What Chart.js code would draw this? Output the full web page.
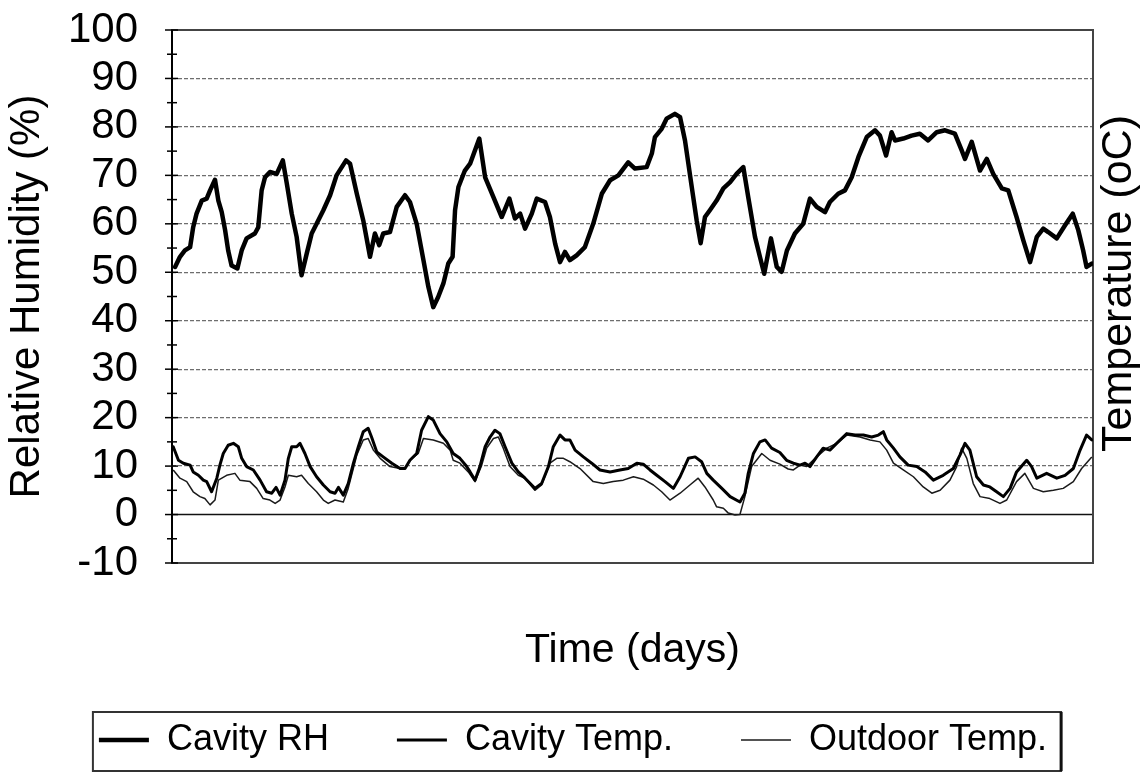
<!DOCTYPE html>
<html><head><meta charset="utf-8">
<script src="https://cdn.jsdelivr.net/npm/chart.js@4.4.1/dist/chart.umd.min.js"></script>
<style>html,body{margin:0;padding:0;background:#fff;} canvas{display:block;}</style>
</head><body>
<canvas id="c" width="1146" height="773"></canvas>
<script>
const FONT = '"Liberation Sans", Arial, Helvetica, sans-serif';
const seriesLabels = ['Cavity RH', 'Cavity Temp.', 'Outdoor Temp.'];
const yMin = -10, yMax = 100, yStep = 10;
const xMinDays = 0, xMaxDays = 30;

const rhDays = [0.10,0.26,0.42,0.59,0.69,0.80,0.97,1.13,1.24,1.40,1.51,1.62,1.73,1.83,1.94,2.13,2.27,2.43,2.70,2.81,2.92,3.03,3.19,3.41,3.61,3.74,3.90,4.06,4.22,4.39,4.55,4.71,4.93,5.15,5.36,5.67,5.80,6.02,6.23,6.45,6.61,6.75,6.88,7.10,7.32,7.59,7.75,7.97,8.19,8.35,8.51,8.67,8.84,9.00,9.14,9.22,9.33,9.54,9.71,10.01,10.20,10.47,10.74,10.99,11.17,11.34,11.50,11.72,11.88,12.15,12.31,12.48,12.64,12.80,12.96,13.18,13.45,13.72,14.00,14.27,14.54,14.86,15.08,15.46,15.63,15.73,15.95,16.11,16.38,16.55,16.71,16.93,17.09,17.22,17.36,17.52,17.74,17.96,18.18,18.39,18.61,18.77,18.99,19.15,19.29,19.51,19.70,19.86,20.03,20.29,20.56,20.78,21.00,21.27,21.43,21.70,21.92,22.14,22.36,22.63,22.90,23.06,23.26,23.44,23.55,23.82,24.09,24.36,24.63,24.91,25.18,25.50,25.72,25.83,26.05,26.32,26.54,26.75,27.03,27.24,27.51,27.73,27.95,28.17,28.38,28.54,28.82,29.09,29.34,29.52,29.68,29.79,29.96];
const rhValues = [51.1,53.2,54.5,55.2,59.3,62.1,64.8,65.2,66.9,69.1,64.8,62.4,58.7,54.5,51.4,50.8,54.5,57.0,58.0,59.3,66.9,69.6,70.7,70.3,73.1,68.3,62.1,57.3,49.4,53.9,58.0,60.0,62.8,65.9,70.0,73.1,72.4,66.2,60.7,53.2,58.0,55.6,58.0,58.3,63.5,65.9,64.5,60.0,52.5,47.0,42.8,44.9,47.7,51.8,53.2,62.8,67.6,71.0,72.4,77.6,69.6,65.5,61.4,65.2,61.1,62.1,59.0,62.1,65.2,64.5,61.4,55.9,52.1,54.2,52.5,53.5,55.2,60.0,66.2,69.0,70.0,72.7,71.4,71.7,74.5,77.9,79.6,81.7,82.7,82.0,77.2,67.6,60.7,56.0,61.4,62.8,64.8,67.3,68.6,70.3,71.7,65.5,57.3,53.2,49.7,57.0,51.1,50.1,54.5,58.0,60.0,65.2,63.5,62.4,64.5,66.2,66.9,69.6,73.8,77.9,79.3,78.2,74.1,78.9,77.2,77.6,78.2,78.6,77.2,78.9,79.3,78.6,75.2,73.4,76.9,71.0,73.4,70.3,67.3,66.9,61.4,56.6,52.1,57.3,59.0,58.3,57.0,59.7,62.1,58.7,54.5,51.1,51.8];

const cavDays = [0.04,0.21,0.37,0.59,0.69,0.86,1.02,1.13,1.29,1.46,1.56,1.67,1.83,2.00,2.16,2.27,2.43,2.65,2.87,3.08,3.25,3.39,3.52,3.68,3.79,3.90,4.06,4.17,4.33,4.50,4.71,4.93,5.15,5.31,5.42,5.58,5.74,5.91,6.07,6.23,6.39,6.50,6.67,6.88,7.16,7.43,7.59,7.75,7.97,8.13,8.35,8.51,8.73,8.95,9.16,9.38,9.60,9.71,9.87,10.03,10.20,10.36,10.52,10.68,10.85,11.07,11.28,11.50,11.82,12.04,12.26,12.42,12.64,12.80,12.96,13.13,13.40,13.67,13.94,14.27,14.59,14.86,15.14,15.35,15.57,15.79,16.06,16.33,16.55,16.82,17.04,17.25,17.42,17.63,17.91,18.18,18.50,18.66,18.77,18.94,19.15,19.32,19.53,19.80,20.02,20.24,20.46,20.62,20.78,21.00,21.21,21.43,21.65,21.98,22.25,22.52,22.79,23.01,23.17,23.28,23.50,23.71,23.98,24.26,24.53,24.80,25.12,25.45,25.67,25.83,25.99,26.21,26.43,26.64,26.86,27.08,27.30,27.51,27.84,28.00,28.17,28.49,28.82,29.09,29.36,29.58,29.79,29.96];
const cavValues = [14.0,11.2,10.6,10.2,8.8,8.1,7.1,6.8,4.7,7.5,10.2,12.6,14.3,14.7,14.0,11.6,9.9,9.2,7.1,4.7,4.4,5.6,4.0,7.1,11.6,14.0,14.0,14.7,12.6,9.9,7.8,6.1,4.7,4.4,5.6,4.0,6.4,10.6,14.0,17.1,17.8,16.0,12.9,11.9,10.6,9.5,9.5,11.2,12.6,17.4,20.2,19.5,16.7,15.0,12.6,11.6,9.9,8.8,7.1,9.9,14.0,16.0,17.4,16.7,14.0,10.6,8.8,7.5,5.4,6.4,9.9,14.0,16.4,15.4,15.4,13.3,11.9,10.6,9.2,8.8,9.2,9.5,10.6,10.4,9.2,8.1,6.8,5.4,7.8,11.6,11.9,10.9,8.5,7.1,5.4,3.7,2.6,4.4,8.5,12.6,15.0,15.4,13.7,12.8,11.2,10.6,10.2,10.6,9.9,11.9,13.7,13.3,14.7,16.7,16.4,16.4,16.0,16.4,17.1,15.4,13.7,11.9,10.2,9.9,8.8,7.1,8.1,9.5,12.3,14.7,13.3,7.8,6.1,5.7,4.7,3.7,5.4,8.8,11.2,9.9,7.5,8.5,7.5,8.1,9.5,13.3,16.4,15.4];

const outDays = [0.04,0.26,0.48,0.69,0.91,1.07,1.24,1.40,1.51,1.78,2.05,2.21,2.54,2.76,2.97,3.19,3.36,3.52,3.68,3.79,4.06,4.22,4.44,4.71,4.93,5.09,5.31,5.58,5.74,6.02,6.23,6.39,6.56,6.78,7.10,7.43,7.59,7.75,8.02,8.19,8.51,8.84,9.06,9.16,9.38,9.65,9.87,10.09,10.25,10.47,10.63,10.79,11.01,11.28,11.50,11.82,12.04,12.31,12.53,12.75,12.96,13.29,13.72,14.05,14.37,14.70,15.03,15.35,15.68,15.95,16.22,16.55,16.87,17.14,17.36,17.63,17.74,17.96,18.12,18.34,18.50,18.66,18.88,19.21,19.48,19.80,20.07,20.24,20.46,20.67,21.00,21.33,21.65,21.98,22.41,22.74,23.06,23.28,23.50,23.82,24.15,24.47,24.75,25.02,25.34,25.56,25.72,25.89,26.10,26.32,26.64,26.97,27.19,27.51,27.78,28.06,28.38,28.71,29.03,29.36,29.63,29.96];
const outValues = [9.2,7.5,6.8,4.7,3.7,3.3,2.0,3.0,7.1,8.1,8.5,7.1,6.8,5.4,3.3,3.0,2.3,3.0,5.7,8.1,7.8,8.1,6.4,4.7,3.0,2.3,3.0,2.6,5.4,12.3,15.4,15.7,13.3,11.6,9.9,9.5,9.5,11.2,12.6,15.7,15.4,14.7,13.3,11.2,10.6,8.8,6.8,10.2,13.7,15.7,16.0,13.7,9.9,8.1,7.5,5.0,6.1,10.6,11.6,11.6,10.9,9.5,6.8,6.4,6.8,7.1,7.8,7.3,6.1,4.7,3.0,4.4,6.1,7.5,5.7,3.0,1.6,1.3,0.3,-0.1,0.0,3.7,9.9,12.6,11.2,10.4,9.4,9.2,10.2,9.9,11.9,13.7,14.7,16.4,16.0,15.4,15.0,13.3,10.6,9.2,7.8,5.7,4.4,5.0,7.1,9.9,13.7,11.6,6.4,3.7,3.3,2.3,3.0,6.8,8.5,5.4,4.7,5.0,5.4,6.8,9.5,11.9];

function pts(days, vals) { return days.map((d, i) => ({ x: d, y: vals[i] })); }

const framePlugin = {
  id: 'frame',
  beforeDatasetsDraw(chart) {
    const { ctx, chartArea: a, scales: { y } } = chart;
    ctx.save();
    const y0 = y.getPixelForValue(0);
    ctx.strokeStyle = '#111'; ctx.lineWidth = 1.6;
    ctx.beginPath(); ctx.moveTo(a.left, y0); ctx.lineTo(a.right, y0); ctx.stroke();
    ctx.strokeStyle = '#444'; ctx.lineWidth = 2;
    ctx.strokeRect(a.left, a.top, a.right - a.left, a.bottom - a.top);
    ctx.strokeStyle = '#000'; ctx.lineWidth = 2;
    ctx.beginPath(); ctx.moveTo(a.left, a.top); ctx.lineTo(a.left, a.bottom); ctx.stroke();
    ctx.lineWidth = 1.5;
    for (let v = yMin; v <= yMax; v += yStep / 2) {
      const py = y.getPixelForValue(v);
      const major = Math.abs(v % yStep) < 1e-9;
      ctx.beginPath();
      ctx.moveTo(a.left - (major ? 7 : 5), py);
      ctx.lineTo(a.left + (major ? 6 : 5), py);
      ctx.stroke();
    }
    ctx.restore();
  },
  afterDraw(chart) {
    const { ctx, chartArea: a, legend } = chart;
    ctx.save();
    ctx.font = '43px ' + FONT; ctx.fillStyle = '#000';
    ctx.textAlign = 'center'; ctx.textBaseline = 'middle';
    ctx.translate(a.right + 26, (a.top + a.bottom) / 2 - 13);
    ctx.rotate(-Math.PI / 2);
    ctx.fillText('Temperature (oC)', 0, 0);
    ctx.restore();
    const hb = legend.legendHitBoxes;
    if (hb && hb.length) {
      const first = hb[0], last = hb[hb.length - 1];
      const cy = legend.top + legend.options.labels.padding + 18;
      const l = first.left - 6, r = last.left + last.width + 14;
      const t = cy - 28, b = cy + 31;
      ctx.save();
      ctx.strokeStyle = '#333'; ctx.lineWidth = 2;
      ctx.strokeRect(l, t, r - l, b - t);
      ctx.lineWidth = 3; ctx.strokeStyle = '#111';
      ctx.beginPath(); ctx.moveTo(r, t); ctx.lineTo(r, b); ctx.stroke();
      ctx.restore();
    }
  }
};

new Chart(document.getElementById('c'), {
  type: 'line',
  data: {
    datasets: [
      { label: seriesLabels[0], data: pts(rhDays, rhValues), borderColor: '#000', backgroundColor: '#000', borderWidth: 4.5, pointRadius: 0, tension: 0, borderJoinStyle: 'round', borderCapStyle: 'round' },
      { label: seriesLabels[1], data: pts(cavDays, cavValues), borderColor: '#000', backgroundColor: '#000', borderWidth: 3, pointRadius: 0, tension: 0, borderJoinStyle: 'round', borderCapStyle: 'round' },
      { label: seriesLabels[2], data: pts(outDays, outValues), borderColor: '#1a1a1a', backgroundColor: '#1a1a1a', borderWidth: 1.5, pointRadius: 0, tension: 0, borderJoinStyle: 'round' }
    ]
  },
  options: {
    responsive: false,
    animation: false,
    events: [],
    layout: { padding: { top: 30, bottom: 5, left: 0, right: 0 } },
    plugins: {
      tooltip: { enabled: false },
      legend: {
        position: 'bottom', align: 'center',
        labels: { usePointStyle: true, pointStyle: 'line', pointStyleWidth: 50, padding: 68, color: '#000', font: { family: FONT, size: 36 } }
      }
    },
    scales: {
      x: {
        type: 'linear', min: xMinDays, max: xMaxDays,
        ticks: { display: false }, grid: { display: false, drawTicks: false }, border: { display: false },
        title: { display: true, text: 'Time (days)', color: '#000', font: { family: FONT, size: 41 }, padding: { top: 0, bottom: -21 } },
        afterFit(s) { s.height = 91; }
      },
      y: {
        type: 'linear', position: 'left', min: yMin, max: yMax,
        ticks: { stepSize: yStep, autoSkip: false, color: '#000', font: { family: FONT, size: 42, lineHeight: 1 }, padding: 4 },
        grid: { drawTicks: true, tickLength: 30, tickColor: 'rgba(0,0,0,0)', lineWidth: 1.3, color: c => (c.tick && [0, yMin, yMax].includes(c.tick.value)) ? 'rgba(0,0,0,0)' : '#6e6e6e' },
        border: { display: false, dash: [4, 2] },
        title: { display: true, text: 'Relative Humidity (%)', color: '#000', font: { family: FONT, size: 42 }, padding: { top: 2, bottom: 0 } },
        afterFit(s) { s.width = 172; }
      },
      y2: {
        type: 'linear', position: 'right', display: true,
        ticks: { display: false }, grid: { display: false, drawTicks: false }, border: { display: false },
        afterFit(s) { s.width = 53; }
      }
    }
  },
  plugins: [framePlugin]
});
</script>
</body></html>
